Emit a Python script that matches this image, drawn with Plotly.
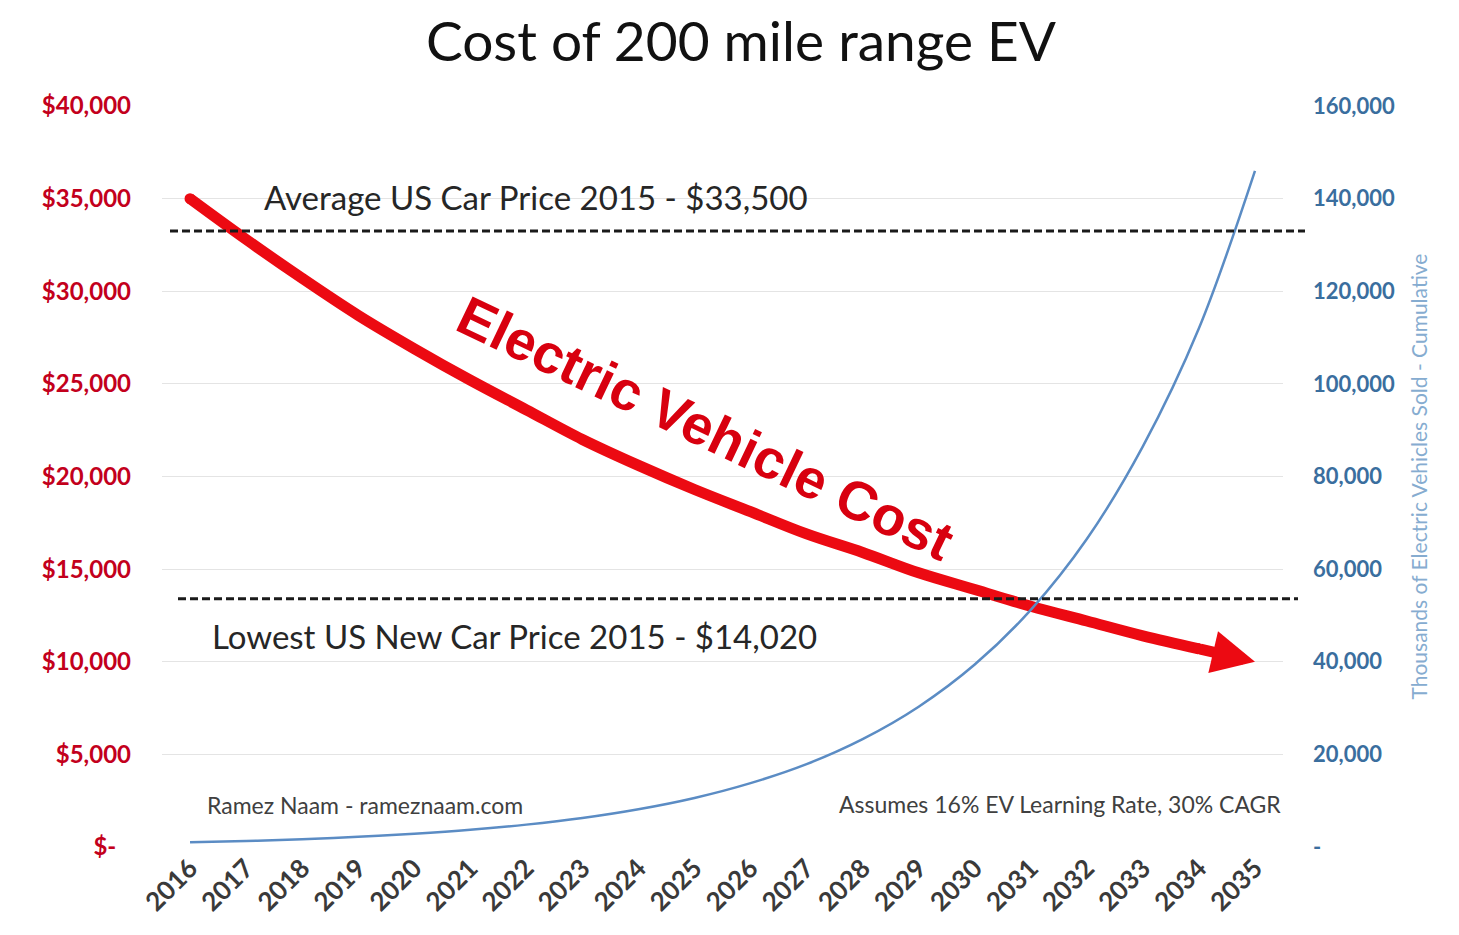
import plotly.graph_objects as go

years = [str(y) for y in range(2016, 2036)]
ev_cost = [35000, 32800, 30700, 28700, 26900, 25200, 23600, 22000, 20600, 19300,
           18100, 16900, 15900, 14800, 13900, 13000, 12200, 11400, 10700, 10000]
ev_sold = [1000, 1300, 1690, 2200, 2860, 3710, 4830, 6270, 8160, 10600,
           13800, 17900, 23300, 30300, 39400, 51200, 66500, 86500, 112000, 146000]
ref_levels = [33250, 13400]
ref_labels = ["Average US Car Price 2015 - $33,500", "Lowest US New Car Price 2015 - $14,020"]
left_ticks = [0, 5000, 10000, 15000, 20000, 25000, 30000, 35000, 40000]
left_text = ["$-\u00a0\u00a0\u2009", "$5,000", "$10,000", "$15,000", "$20,000",
             "$25,000", "$30,000", "$35,000", "$40,000"]
right_ticks = [0, 20000, 40000, 60000, 80000, 100000, 120000, 140000, 160000]
right_text = ["-", "20,000", "40,000", "60,000", "80,000", "100,000", "120,000",
              "140,000", "160,000"]

# page has an 8px body margin: figure origin sits at (8, 8)
OFF = 8
PW, PH = 1459, 935
W, H = PW - OFF, PH - OFF
L, R, T, B = 162, 1283, 106, 847   # plot area in page pixels
def px(x):
    return (x - L) / (R - L)
def py(y):
    return (B - y) / (B - T)

RED = "#ec0a12"
fig = go.Figure()

fig.add_trace(go.Scatter(
    x=years, y=ev_sold, yaxis="y2", mode="lines",
    line=dict(color="#5b8cc4", width=2.5, shape="spline"),
    hoverinfo="skip", showlegend=False))

fig.add_trace(go.Scatter(
    x=years[:-1], y=ev_cost[:-1], mode="lines",
    line=dict(color=RED, width=11, shape="spline"),
    hoverinfo="skip", showlegend=False))
fig.add_trace(go.Scatter(
    x=[years[0], years[-2]], y=[ev_cost[0], ev_cost[-2]], mode="markers",
    marker=dict(color=RED, size=11, line=dict(width=0)),
    hoverinfo="skip", showlegend=False))

# arrow head at the last point
fig.add_annotation(
    x=len(years) - 1, y=ev_cost[-1], ax=len(years) - 2, ay=ev_cost[-2],
    xref="x", yref="y", axref="x", ayref="y",
    showarrow=True, arrowhead=2, arrowsize=0.78, arrowwidth=11,
    arrowcolor=RED, text="")

# reference dashed lines
x_spans = [(170, 1305), (178, 1298)]
for lvl, (x0, x1) in zip(ref_levels, x_spans):
    fig.add_shape(type="line", xref="paper", yref="y", x0=px(x0), x1=px(x1),
                  y0=lvl, y1=lvl, line=dict(color="#1a1a1a", width=3, dash="8px,4px"))

fig.add_annotation(text=ref_labels[0], xref="paper", yref="paper",
                   x=px(262), y=py(197), xanchor="left", yanchor="middle",
                   showarrow=False, font=dict(family="Lato", size=33, color="#262626"))
fig.add_annotation(text=ref_labels[1], xref="paper", yref="paper",
                   x=px(210), y=py(636), xanchor="left", yanchor="middle",
                   showarrow=False, font=dict(family="Lato", size=33, color="#262626"))

fig.add_annotation(text="<b>Electric Vehicle Cost</b>", xref="paper", yref="paper",
                   x=px(705), y=py(428), xanchor="center", yanchor="middle",
                   textangle=25.5, showarrow=False,
                   font=dict(family="Liberation Sans", size=55, color="#d8000f"))

fig.add_annotation(text="Ramez Naam - rameznaam.com", xref="paper", yref="paper",
                   x=px(205), y=py(805), xanchor="left", yanchor="middle",
                   showarrow=False, font=dict(family="Lato", size=23, color="#404040"))
fig.add_annotation(text="Assumes 16% EV Learning Rate, 30% CAGR", xref="paper", yref="paper",
                   x=px(1283), y=py(804), xanchor="right", yanchor="middle",
                   showarrow=False, font=dict(family="Lato", size=23, color="#404040"))

fig.update_layout(
    width=W, height=H,
    margin=dict(l=L - OFF, r=PW - R, t=T - OFF, b=PH - B),
    paper_bgcolor="white", plot_bgcolor="white",
    title=dict(text="Cost of 200 mile range EV", x=(741 - OFF) / W, xanchor="center",
               y=1 - (42 - OFF) / H, yanchor="middle",
               font=dict(family="Lato", size=55, color="#111111")),
    xaxis=dict(type="category", range=[-0.5, len(years) - 0.5], tickangle=-45,
               showgrid=False, showline=False, ticks="",
               tickfont=dict(family="Lato", size=26, color="#3a3a3a", weight="bold")),
    yaxis=dict(range=[0, 40000], tickvals=left_ticks, ticktext=left_text,
               showgrid=True, gridcolor="#e4e4e4", gridwidth=1, zeroline=False,
               showline=False, ticks="", ticklabelstandoff=30,
               tickfont=dict(family="Lato", size=24, color="#c3001c", weight="bold")),
    yaxis2=dict(range=[0, 160000], tickvals=right_ticks, ticktext=right_text,
                overlaying="y", side="right", showgrid=False, zeroline=False,
                showline=False, ticks="", ticklabelstandoff=29,
                tickfont=dict(family="Lato", size=22, color="#3a6e9e", weight="bold"),
                title=dict(text="Thousands of Electric Vehicles Sold - Cumulative",
                           standoff=18,
                           font=dict(family="Lato", size=21, color="#86acd0"))),
)

fig.write_html("out.html")
